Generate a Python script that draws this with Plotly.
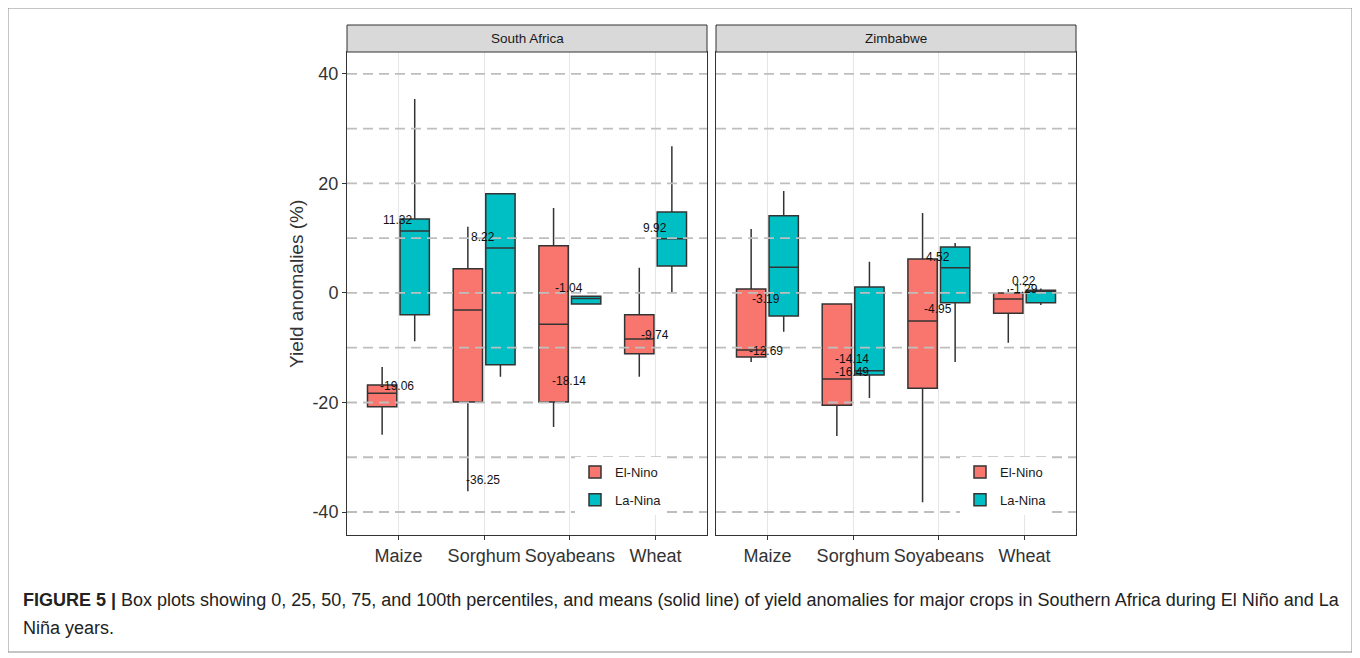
import plotly.graph_objects as go

# ---------------- data ----------------
crops = ["Maize", "Sorghum", "Soyabeans", "Wheat"]
phases = ["El-Nino", "La-Nina"]

# South Africa – El-Nino
sa_el_low = [-25.9, -36.2, -24.5, -15.3]
sa_el_q1 = [-20.8, -19.9, -19.9, -11.1]
sa_el_med = [-18.3, -3.1, -5.7, -8.4]
sa_el_q3 = [-16.8, 4.4, 8.6, -4.0]
sa_el_high = [-13.5, 12.1, 15.5, 4.6]
# South Africa – La-Nina
sa_la_low = [-8.8, -15.3, -2.0, 0.0]
sa_la_q1 = [-4.0, -13.1, -2.0, 4.9]
sa_la_med = [11.3, 8.2, -1.0, 9.9]
sa_la_q3 = [13.5, 18.1, -0.6, 14.8]
sa_la_high = [35.4, 18.1, -0.6, 26.8]

# Zimbabwe – El-Nino
zw_el_low = [-12.6, -26.1, -38.2, -9.1]
zw_el_q1 = [-11.7, -20.5, -17.4, -3.7]
zw_el_med = [-10.4, -15.7, -5.1, -1.1]
zw_el_q3 = [0.7, -2.0, 6.2, 0.0]
zw_el_high = [11.7, -2.0, 14.6, 0.7]
# Zimbabwe – La-Nina
zw_la_low = [-7.1, -19.2, -12.6, -2.2]
zw_la_q1 = [-4.2, -15.0, -1.8, -1.8]
zw_la_med = [4.7, -14.2, 4.6, 0.4]
zw_la_q3 = [14.1, 1.1, 8.4, 0.5]
zw_la_high = [18.6, 5.7, 9.1, 0.8]

# value labels
sa_label_crops = ["Maize", "Maize", "Sorghum", "Sorghum", "Soyabeans", "Soyabeans", "Wheat", "Wheat"]
sa_label_vals = [11.32, -19.06, 8.22, -36.25, -1.04, -18.14, 9.92, -9.74]
zw_label_crops = ["Maize", "Maize", "Sorghum", "Sorghum", "Soyabeans", "Soyabeans", "Wheat", "Wheat"]
zw_label_vals = [-3.19, -12.69, -14.14, -16.49, 4.52, -4.95, 0.22, -1.29]

panel_titles = ["South Africa", "Zimbabwe"]
y_ticks = [-40, -20, 0, 20, 40]
y_tick_labels = ["-40", "-20", "0", "20", "40"]
grid_vals = [-40, -30, -20, -10, 0, 10, 20, 30, 40]
y_title = "Yield anomalies (%)"
caption_1 = ("<b>FIGURE 5 |</b> Box plots showing 0, 25, 50, 75, and 100th percentiles, and means "
             "(solid line) of yield anomalies for major crops in Southern Africa during El Niño and La")
caption_2 = "Niña years."

# ---------------- layout helpers ----------------
# the page body has an 8px margin, so the figure is drawn 8px in from the corner
OFF = 8
W, H = 1352, 650
def px(x):
    return (x - OFF) / W
def py(y):
    return 1 - (y - OFF) / H

EL_COLOR = "#F8766D"
LA_COLOR = "#00BFC4"
FONT = "Liberation Sans, Arial, sans-serif"

panel_left = [347, 716]
panel_right = [707, 1076]
panel_top, panel_bottom = 52, 535
strip_top = 25

fig = go.Figure()

series = [
    ("x", "y", "legend", "sa", [
        ("El-Nino", EL_COLOR, sa_el_low, sa_el_q1, sa_el_med, sa_el_q3, sa_el_high),
        ("La-Nina", LA_COLOR, sa_la_low, sa_la_q1, sa_la_med, sa_la_q3, sa_la_high)]),
    ("x2", "y2", "legend2", "zw", [
        ("El-Nino", EL_COLOR, zw_el_low, zw_el_q1, zw_el_med, zw_el_q3, zw_el_high),
        ("La-Nina", LA_COLOR, zw_la_low, zw_la_q1, zw_la_med, zw_la_q3, zw_la_high)]),
]
for xa, ya, lg, grp, traces in series:
    for name, col, lo, q1, med, q3, hi in traces:
        fig.add_trace(go.Box(
            x=crops, q1=q1, median=med, q3=q3, lowerfence=lo, upperfence=hi,
            name=name, xaxis=xa, yaxis=ya, legend=lg,
            legendgroup=lg + name, alignmentgroup=grp, offsetgroup=name,
            fillcolor=col, line=dict(color="#333333", width=1.5),
            whiskerwidth=0, boxpoints=False, hoverinfo="skip",
        ))

axis_common_x = dict(
    type="category", categoryorder="array", categoryarray=crops,
    range=[-0.6, 3.6], showgrid=True, gridcolor="#E6E6E6", gridwidth=1,
    showline=True, mirror=True, linecolor="#333333", linewidth=1,
    ticks="outside", ticklen=4, tickcolor="#333333",
    tickfont=dict(size=18, color="#333333", family=FONT), zeroline=False,
)
axis_common_y = dict(
    range=[-44.2, 44.0], tickvals=y_ticks, ticktext=y_tick_labels, showgrid=False, zeroline=False,
    showline=True, mirror=True, linecolor="#333333", linewidth=1,
    domain=[py(panel_bottom), py(panel_top)],
)

fig.update_layout(
    width=W, height=H, margin=dict(l=0, r=0, t=0, b=0),
    paper_bgcolor="white", plot_bgcolor="white",
    font=dict(family=FONT, color="#333333"),
    boxmode="group", boxgap=0.24, boxgroupgap=0.1,
    xaxis=dict(domain=[px(panel_left[0]), px(panel_right[0])], anchor="y", **axis_common_x),
    xaxis2=dict(domain=[px(panel_left[1]), px(panel_right[1])], anchor="y2", **axis_common_x),
    yaxis=dict(anchor="x", ticks="outside", ticklen=4, tickcolor="#333333",
               tickfont=dict(size=18, color="#333333", family=FONT), **axis_common_y),
    yaxis2=dict(anchor="x2", matches="y", showticklabels=False, ticks="", **axis_common_y),
    legend=dict(x=px(575), y=py(457), xanchor="left", yanchor="top", bgcolor="white",
                font=dict(size=13, color="#1A1A1A", family=FONT), tracegroupgap=8),
    legend2=dict(x=px(960), y=py(457), xanchor="left", yanchor="top", bgcolor="white",
                 font=dict(size=13, color="#1A1A1A", family=FONT), tracegroupgap=8),
)

shapes = []
annotations = []

# dashed horizontal reference lines drawn over boxes
for xd, yref in [("x domain", "y"), ("x2 domain", "y2")]:
    for v in grid_vals:
        shapes.append(dict(type="line", xref=xd, yref=yref, x0=0, x1=1, y0=v, y1=v,
                           line=dict(color="#BEBEBE", width=1.8, dash="10px,6px"), layer="above"))

# strips
for i, t in enumerate(panel_titles):
    shapes.append(dict(type="rect", xref="paper", yref="paper",
                       x0=px(panel_left[i]), x1=px(panel_right[i]), y0=py(panel_top), y1=py(strip_top),
                       fillcolor="#D9D9D9", line=dict(color="#333333", width=1), layer="above"))
    annotations.append(dict(xref="paper", yref="paper", x=px((panel_left[i] + panel_right[i]) / 2),
                            y=py((panel_top + strip_top) / 2), text=t, showarrow=False,
                            font=dict(size=13.5, color="#1A1A1A", family=FONT),
                            xanchor="center", yanchor="middle"))

# value labels
for xa, ya, cs, vs in [("x", "y", sa_label_crops, sa_label_vals), ("x2", "y2", zw_label_crops, zw_label_vals)]:
    for c, v in zip(cs, vs):
        annotations.append(dict(xref=xa, yref=ya, x=c, y=v, text=f"{v:.2f}", showarrow=False,
                                xshift=-1, yshift=11, font=dict(size=12, color="#111111", family=FONT)))

# y-axis title
annotations.append(dict(xref="paper", yref="paper", x=px(296), y=py(284), text=y_title,
                        textangle=-90, showarrow=False, xanchor="center", yanchor="middle",
                        font=dict(size=19, color="#333333", family=FONT)))

# caption
annotations.append(dict(xref="paper", yref="paper", x=px(21), y=py(600), text=caption_1,
                        showarrow=False, xanchor="left", yanchor="middle", align="left",
                        font=dict(size=18, color="#222222", family=FONT)))
annotations.append(dict(xref="paper", yref="paper", x=px(21), y=py(628), text=caption_2,
                        showarrow=False, xanchor="left", yanchor="middle", align="left",
                        font=dict(size=18, color="#222222", family=FONT)))

# outer frame
shapes.append(dict(type="rect", xref="paper", yref="paper", x0=px(8), x1=px(1352),
                   y0=py(652), y1=py(8), line=dict(color="#8C8C8C", width=1), fillcolor="rgba(0,0,0,0)"))

fig.update_layout(shapes=shapes, annotations=annotations)

fig.write_html("out.html")
